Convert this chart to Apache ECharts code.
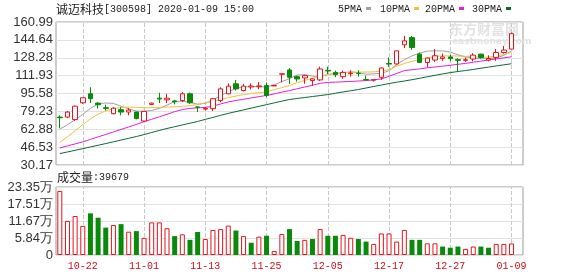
<!DOCTYPE html>
<html>
<head>
<meta charset="utf-8">
<script src="https://cdn.jsdelivr.net/npm/echarts/dist/echarts.min.js"></script>
<style>
html, body { margin: 0; padding: 0; background: #fff; }
#main { width: 578px; height: 276px; }
</style>
</head>
<body>
<div id="main"></div>
<script>
// trading days shown (2019-10-17 .. 2020-01-09)
var dates = ['10-17','10-18','10-21','10-22','10-23','10-24','10-25','10-28','10-29','10-30','10-31',
  '11-01','11-04','11-05','11-06','11-07','11-08','11-11','11-12','11-13','11-14','11-15','11-18','11-19',
  '11-20','11-21','11-22','11-25','11-26','11-27','11-28','11-29','12-02','12-03','12-04','12-05','12-06',
  '12-09','12-10','12-11','12-12','12-13','12-16','12-17','12-18','12-19','12-20','12-23','12-24','12-25',
  '12-26','12-27','12-30','12-31','01-02','01-03','01-06','01-07','01-08','01-09'];

var opens  = [74.0,74.0,71.7,87.1,95.3,86.8,82.6,77.1,80.8,78.6,78.6,70.4,85.6,91.3,89.8,88.8,89.2,95.3,83.3,81.3,
  81.7,89.2,95.3,104.4,98.3,101.6,101.8,102.8,102.5,113.2,117.1,111.0,109.8,107.4,108.0,116.8,114.9,111.0,113.7,114.2,
  108.3,107.8,110.4,123.0,122.6,140.1,146.7,131.6,124.0,126.2,127.5,129.0,126.5,125.9,127.1,131.6,126.2,128.6,133.1,136.2];
var closes = [73.4,78.6,84.0,91.7,90.8,85.3,82.0,82.2,78.6,80.4,72.6,79.2,86.8,90.5,91.3,88.0,95.3,87.1,83.0,82.0,
  90.8,99.8,102.3,99.8,102.3,102.4,102.5,93.8,103.0,113.6,110.4,108.9,111.9,108.9,118.0,116.2,112.8,114.9,114.2,113.8,
  108.0,108.2,118.9,122.5,134.6,143.7,137.6,124.0,128.0,130.1,129.0,127.6,125.9,126.5,130.7,128.6,127.6,133.1,135.3,150.3];
var lows   = [63.8,73.0,70.5,86.2,86.8,81.7,80.1,76.5,75.6,75.6,72.0,69.8,85.3,86.8,86.8,85.6,87.7,86.0,78.6,80.0,
  79.5,87.7,95.0,98.3,97.5,99.2,99.5,92.2,102.3,105.8,104.4,106.5,104.5,102.8,107.0,113.5,110.5,109.0,111.0,111.0,
  108.0,106.5,108.0,120.0,122.0,137.1,135.6,123.5,119.5,124.5,125.5,125.0,115.8,124.5,125.0,127.5,125.0,125.5,132.0,136.0];
var highs  = [75.6,79.6,84.5,91.9,101.3,87.7,85.3,83.1,83.1,82.2,78.9,79.5,87.2,96.2,95.3,89.8,96.8,96.5,83.5,83.1,
  91.5,101.3,104.9,108.0,104.4,104.9,106.0,105.8,103.2,113.8,118.9,112.0,112.8,109.5,120.1,120.1,116.5,116.5,116.8,116.8,
  111.9,108.5,119.2,128.6,135.0,148.3,148.3,133.1,128.5,136.2,132.0,131.0,128.0,128.5,132.5,132.0,130.5,136.2,139.0,151.3];

var ma5  = [63.0,67.0,71.5,76.5,82.0,86.3,86.9,86.5,84.0,81.5,79.5,79.3,80.0,82.0,85.0,88.2,88.5,87.5,85.8,86.5,
  89.8,93.5,97.0,100.2,101.5,101.9,101.8,101.5,103.5,106.5,109.2,112.5,112.8,111.5,111.0,112.8,114.0,114.6,115.5,114.5,
  113.2,113.6,114.0,116.5,122.0,126.5,130.0,132.5,134.3,134.6,134.6,133.5,131.0,129.0,128.0,127.3,127.6,128.0,130.5,134.6];
var ma10 = [51.0,56.0,61.5,67.0,72.5,76.5,79.8,81.7,82.8,83.1,82.9,82.6,82.6,82.8,83.2,83.4,83.8,84.5,85.6,87.0,
  88.4,90.0,91.8,93.2,94.6,95.6,96.4,97.0,99.0,101.0,102.8,105.5,107.6,109.6,111.5,113.0,114.0,114.7,115.0,115.1,
  115.2,115.4,116.0,117.5,120.5,123.0,125.0,126.5,128.0,129.6,130.0,130.0,129.9,129.6,129.2,128.8,128.9,129.8,131.2,133.1];
var ma20 = [45.8,47.6,49.5,51.3,53.6,55.9,58.1,60.4,62.7,65.0,67.3,69.8,72.0,74.3,76.5,79.0,80.8,82.0,82.4,82.9,
  84.0,86.0,87.9,89.2,90.3,91.5,92.7,93.8,95.2,96.8,98.3,99.9,101.5,103.1,104.9,105.7,106.0,106.3,106.6,107.0,
  107.4,108.1,108.9,111.3,113.9,116.5,117.3,118.1,119.1,119.8,120.6,121.4,122.3,123.1,124.2,125.2,126.2,127.2,128.2,129.2];
var ma30 = [40.6,42.1,43.6,45.1,46.7,48.2,49.8,51.4,53.0,54.6,56.2,58.0,59.9,61.8,63.6,65.2,66.8,68.4,70.0,71.9,
  73.7,75.6,77.4,79.0,80.6,82.2,83.8,85.4,87.0,88.6,90.1,91.0,91.9,92.8,93.7,94.6,95.8,97.0,98.1,99.2,
  100.6,102.0,103.3,104.7,105.9,107.0,108.2,109.5,110.9,112.2,113.5,114.7,115.7,116.6,117.6,118.7,119.7,120.8,121.8,122.8];

// volume in 万 (10k lots); 1 = red bar, 0 = green bar
var volumes = [22.0,11.7,13.4,10.0,14.3,12.8,9.4,10.3,10.6,8.0,8.2,5.9,11.2,11.2,9.2,6.5,7.1,5.2,7.9,5.5,
  8.6,8.9,10.1,8.4,6.5,4.2,6.3,6.6,1.4,7.2,8.9,4.8,5.2,5.5,8.9,6.6,6.6,6.9,5.9,5.5,
  4.6,3.8,7.4,7.4,4.6,8.6,5.2,5.2,4.0,4.0,2.9,2.5,2.9,2.1,2.9,2.9,2.5,3.8,3.8,3.97];
var volUp = [1,1,1,1,0,0,0,1,0,1,0,1,1,1,1,0,1,0,0,1,
  1,1,1,0,1,0,1,0,1,1,0,0,1,0,1,0,0,1,1,0,
  0,1,1,1,1,1,0,0,1,1,0,0,0,1,1,0,0,1,1,1];

var priceTicks = ['30.17','46.53','62.88','79.23','95.58','111.93','128.28','144.64','160.99'];
var volTicks = ['0','5.84万','11.67万','17.51万','23.35万'];
var labelDays = ['10-22','11-01','11-13','11-25','12-05','12-17','12-27','01-09'];

var RED = '#e4141b', GREEN = '#0a8a0a';
var priceMin = 30.17, priceMax = 160.99, priceStep = (priceMax - priceMin) / 8;
var volMax = 23.35, volStep = volMax / 4;

var cats = dates.concat(['']);
var candles = opens.map(function (o, i) { return [o, closes[i], lows[i], highs[i]]; });
var volData = volumes.map(function (v, i) {
  return volUp[i]
    ? { value: v, itemStyle: { color: '#fff', borderColor: RED, borderWidth: 1 } }
    : { value: v, itemStyle: { color: GREEN } };
});
var vLines = labelDays.map(function (d) { return { xAxis: d }; });
var markLineOpt = {
  silent: true, symbol: ['none', 'none'], label: { show: false }, animation: false, z: 1,
  lineStyle: { type: 'dashed', color: '#c8c8c8', width: 1 }, data: vLines
};

function maLine(name, data, color) {
  return {
    name: name, type: 'line', data: data, xAxisIndex: 0, yAxisIndex: 0,
    showSymbol: false, symbol: 'none', silent: true, z: 2,
    lineStyle: { width: 1, color: color }
  };
}

var legendItems = [
  { t: '5PMA', x: 338, c: '#a0a0a0' },
  { t: '10PMA', x: 380, c: '#f0c23c' },
  { t: '20PMA', x: 425, c: '#e020d8' },
  { t: '30PMA', x: 472, c: '#0b6a36' }
];
var graphics = [
  {
    type: 'text', left: 56, top: 3,
    style: {
      text: '{c|诚迈科技}{m|[300598] 2020-01-09 15:00}', fill: '#222',
      rich: {
        c: { fontFamily: 'Noto Sans CJK SC', fontSize: 12, fill: '#222' },
        m: { fontFamily: 'Liberation Mono', fontSize: 10, fill: '#222' }
      }
    }
  },
  {
    type: 'text', left: 57, top: 171,
    style: {
      text: '{c|成交量}{m|:39679}', fill: '#222',
      rich: {
        c: { fontFamily: 'Noto Sans CJK SC', fontSize: 12, fill: '#222' },
        m: { fontFamily: 'Liberation Mono', fontSize: 10, fill: '#222' }
      }
    }
  },
  {
    type: 'text', left: 449, top: 22, z: 0,
    style: { text: '东方财富网', fontFamily: 'Noto Sans CJK SC', fontSize: 14, fontWeight: 'bold', fill: '#e2e2e2' }
  },
  {
    type: 'text', left: 452, top: 37, z: 0,
    style: { text: 'eastmoney.com', fontFamily: 'DejaVu Sans', fontSize: 9, fontWeight: 'bold', fill: '#e2e2e2' }
  }
];
legendItems.forEach(function (it) {
  graphics.push({
    type: 'text', left: it.x, top: 4,
    style: { text: it.t, fontFamily: 'Liberation Mono', fontSize: 10, fill: '#222' }
  });
  graphics.push({
    type: 'rect', shape: { x: it.x + it.t.length * 6 + 4, y: 7, width: 5, height: 3 },
    style: { fill: it.c }
  });
});

var chart = echarts.init(document.getElementById('main'));
chart.setOption({
  animation: false,
  backgroundColor: '#fff',
  grid: [
    { left: 56, top: 22, width: 467, height: 143, show: true, borderColor: '#9a9a9a', borderWidth: 1, outerBoundsMode: 'none' },
    { left: 56, top: 187, width: 467, height: 68, show: true, borderColor: '#9a9a9a', borderWidth: 1, outerBoundsMode: 'none' }
  ],
  xAxis: [
    {
      type: 'category', gridIndex: 0, data: cats, boundaryGap: true,
      axisLine: { show: false }, axisTick: { show: false }, axisLabel: { show: false }, splitLine: { show: false }
    },
    {
      type: 'category', gridIndex: 1, data: cats, boundaryGap: true,
      axisLine: { show: false }, axisTick: { show: false }, splitLine: { show: false },
      axisLabel: {
        interval: function (idx, val) { return labelDays.indexOf(val) >= 0; },
        color: '#c8101a', fontFamily: 'Liberation Mono', fontSize: 10, margin: 6
      }
    }
  ],
  yAxis: [
    {
      type: 'value', gridIndex: 0, min: priceMin, max: priceMax, interval: priceStep,
      axisLine: { show: false }, axisTick: { show: false },
      splitLine: { lineStyle: { color: '#e2e2e2', width: 1 } },
      axisLabel: {
        showMinLabel: true, showMaxLabel: true, margin: 3,
        color: '#333', fontFamily: 'Liberation Sans', fontSize: 13,
        formatter: function (v) { return priceTicks[Math.round((v - priceMin) / priceStep)] || ''; }
      }
    },
    {
      type: 'value', gridIndex: 1, min: 0, max: volMax, interval: volStep,
      axisLine: { show: false }, axisTick: { show: false },
      splitLine: { lineStyle: { color: '#e2e2e2', width: 1 } },
      axisLabel: {
        showMinLabel: true, showMaxLabel: true, margin: 3,
        color: '#333', fontFamily: 'Liberation Sans', fontSize: 13,
        formatter: function (v) { return volTicks[Math.round(v / volStep)] || ''; }
      }
    }
  ],
  series: [
    maLine('5PMA', ma5, '#a0a0a0'),
    maLine('10PMA', ma10, '#f0c23c'),
    maLine('20PMA', ma20, '#e020d8'),
    maLine('30PMA', ma30, '#0b6a36'),
    {
      name: 'K', type: 'candlestick', data: candles, xAxisIndex: 0, yAxisIndex: 0,
      barWidth: 5, z: 3, silent: true,
      itemStyle: { color: '#fff', color0: GREEN, borderColor: RED, borderColor0: GREEN, borderWidth: 1 },
      markLine: markLineOpt
    },
    {
      name: 'VOL', type: 'bar', data: volData, xAxisIndex: 1, yAxisIndex: 1,
      barWidth: 5, z: 3, silent: true,
      markLine: markLineOpt
    }
  ],
  graphic: graphics
});
</script>
</body>
</html>
